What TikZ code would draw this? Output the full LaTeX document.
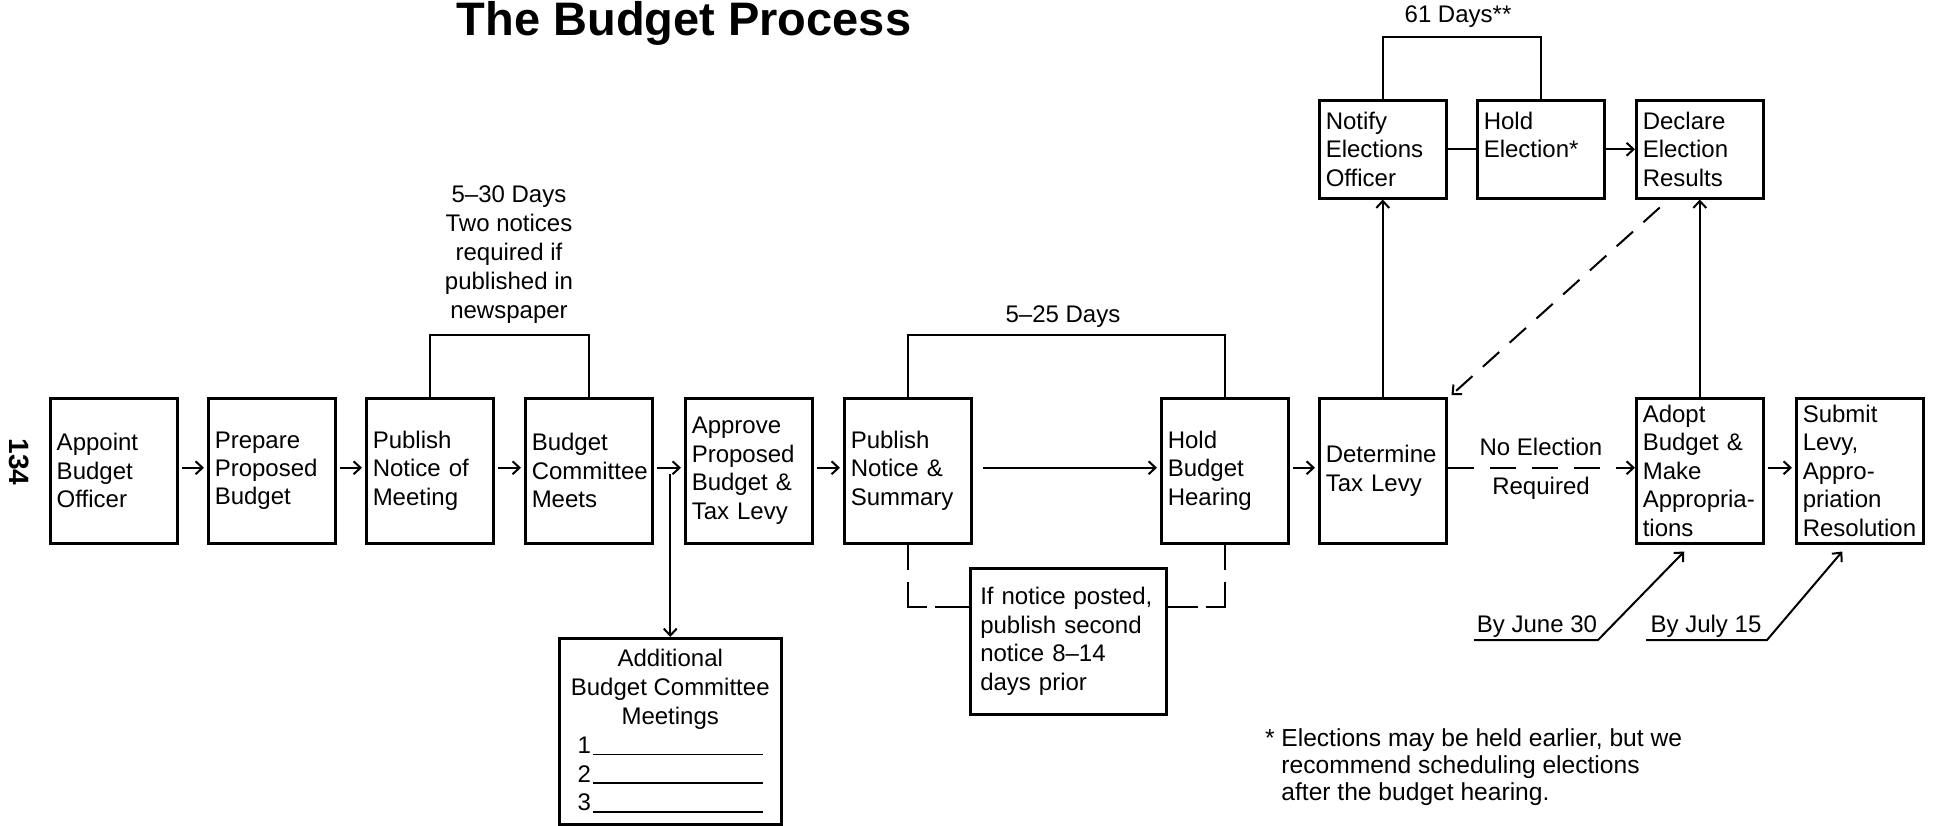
\documentclass[tikz,border=0pt]{standalone}
\usepackage{fontspec}
\setmainfont{Liberation Sans}
\usetikzlibrary{arrows.meta,calc}
\begin{document}
\begin{tikzpicture}[x=0.5pt,y=-0.5pt,
  line width=1pt,
  every node/.style={font=\fontsize{12pt}{14.2pt}\selectfont},
  box/.style={draw,line width=1.25pt,anchor=north west,minimum width=63.5pt,minimum height=72.5pt,text width=57pt,inner xsep=3.25pt,inner ysep=0pt,align=left},
  topbox/.style={box,minimum height=49pt},
  arr/.style={-{Straight Barb[length=3.5pt,width=6.5pt]}},
  lowdash/.style={dash pattern=on 12.5pt off 6pt on 22.5pt off 4pt on 30pt off 0pt},
  label/.style={inner sep=0pt}]
\useasboundingbox (0,0) rectangle (1933,825);

% title and page number
\node[font=\bfseries\fontsize{23.5pt}{28pt}\selectfont,anchor=base] (title) at (684,35) {The Budget Process};
\node[font=\bfseries\fontsize{14pt}{14pt}\selectfont,rotate=-90] (pagenum) at (19,462) {134};

% main row
\node[box] (appoint) at (49,397) {Appoint\\Budget\\Officer};
\node[box] (prepare) at (207,397) {Prepare\\Proposed\\Budget};
\node[box] (pubmeet) at (365,397) {Publish\\Notice of\\Meeting};
\node[box] (committee) at (524,397) {Budget\\Committee\\Meets};
\node[box] (approve) at (684,397) {Approve\\Proposed\\Budget \&\\Tax Levy};
\node[box] (pubsum) at (843,397) {Publish\\Notice \&\\Summary};
\node[box] (hearing) at (1160,397) {Hold\\Budget\\Hearing};
\node[box] (levy) at (1318,397) {Determine\\Tax Levy};
\node[box] (adopt) at (1635,397) {Adopt\\Budget \&\\Make\\\mbox{Appropria-}\\tions};
\node[box] (submit) at (1795,397) {Submit\\Levy,\\\mbox{Appro-}\\priation\\Resolution};

% top row
\node[topbox] (notify) at (1318,99) {Notify\\Elections\\Officer};
\node[topbox] (holdelec) at (1476,99) {Hold\\Election*\\\phantom{X}};
\node[topbox] (declare) at (1635,99) {Declare\\Election\\Results};

% side boxes
\node[draw,line width=1.25pt,anchor=north west,minimum width=111pt,minimum height=93pt,inner sep=0pt,align=center,font=\fontsize{12pt}{14.4pt}\selectfont] (additional) at (558,637)
  {Additional\\Budget Committee\\Meetings\\1\kern1pt\rule[-1pt]{85pt}{0.9pt}\\2\kern1pt\rule[-1pt]{85pt}{0.9pt}\\3\kern1pt\rule[-1pt]{85pt}{0.9pt}};
\node[draw,line width=1.25pt,anchor=north west,minimum width=95pt,minimum height=73pt,text width=88pt,inner xsep=5pt,inner ysep=0pt,align=left] (ifnotice) at (969,567)
  {If notice posted,\\publish second\\notice 8--14\\days prior};

% arrows between main boxes
\foreach \a/\b in {appoint/prepare,prepare/pubmeet,pubmeet/committee,committee/approve,approve/pubsum,hearing/levy,adopt/submit}
  \draw[arr,shorten <=1.5pt,shorten >=1.5pt] ([yshift=1.5pt]\a.east) -- ([yshift=1.5pt]\b.west);
\draw[arr,shorten <=5pt,shorten >=1.5pt] ([yshift=1.5pt]pubsum.east) -- ([yshift=1.5pt]hearing.west);

% branch to additional meetings
\coordinate (branch) at (669,474);
\draw[arr] (additional.north |- branch) -- (additional.north);

% brackets
\draw (pubmeet.north) -- ++(0,-62) -| (committee.north);
\node[align=center,font=\fontsize{12pt}{14.5pt}\selectfont] (note530) at (509,255) {5--30 Days\\Two notices\\required if\\published in\\newspaper};
\draw (pubsum.north) -- ++(0,-62) -| (hearing.north);
\node (note525) at (1063,317) {5--25 Days};
\draw (notify.north) -- ++(0,-62) -| (holdelec.north);
\node (note61) at (1458,17) {61 Days**};

% dashed lower bracket
\draw[lowdash] (pubsum.south) |- ([yshift=17pt]ifnotice.west);
\draw[lowdash] (hearing.south) |- ([yshift=17pt]ifnotice.east);

% election branch
\draw[arr] (levy.north) -- (notify.south);
\draw (notify.east) -- (holdelec.west);
\draw[arr] (holdelec.east) -- (declare.west);
\draw[arr] (adopt.north) -- (declare.south);
\draw[arr,dash pattern=on 11pt off 7pt] ([xshift=-20pt,yshift=-4pt]declare.south) -- ([xshift=2pt,yshift=1pt]levy.north east);

% no election
\draw[arr,dash pattern=on 13pt off 8pt] ([yshift=1.5pt]levy.east) -- ([yshift=1.5pt]adopt.west);
\node (noelec) at (1541,447) {No Election};
\node (required) at (1541,488) {Required};

% deadlines
\node[anchor=base,label] (june) at (1537,632) {By June 30};
\coordinate (j1) at (1474,640);
\coordinate (j2) at (1598,640);
\draw[arr] (j1) -- (j2) -- ([xshift=-7.75pt,yshift=-3.5pt]adopt.south);
\node[anchor=base,label] (july) at (1706,632) {By July 15};
\coordinate (k1) at (1646,640);
\coordinate (k2) at (1767,640);
\draw[arr] (k1) -- (k2) -- ([xshift=-8.75pt,yshift=-3.5pt]submit.south);

% footnote
\node[anchor=north west,align=left,inner sep=0pt,font=\fontsize{12.3pt}{13.5pt}\selectfont] (foot) at (1264,728)
  {* Elections may be held earlier, but we\\\hphantom{*}\ recommend scheduling elections\\\hphantom{*}\ after the budget hearing.};
\end{tikzpicture}
\end{document}
